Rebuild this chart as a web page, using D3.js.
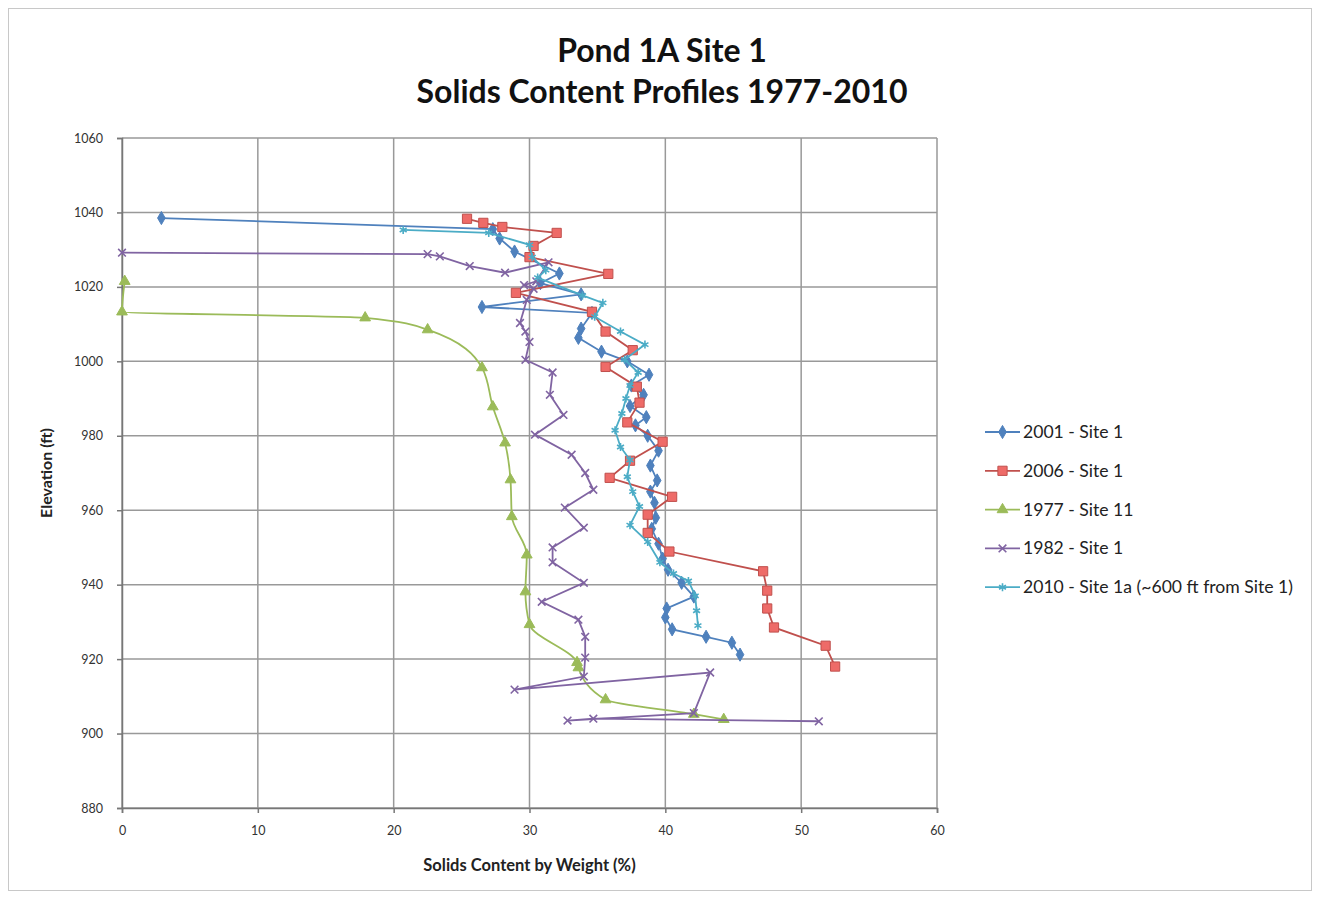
<!DOCTYPE html>
<html>
<head>
  <meta charset="utf-8">
  <title>Pond 1A Site 1 - Solids Content Profiles</title>
  <script src="https://d3js.org/d3.v7.min.js"></script>
  <style>
    body { margin: 0; background: #fff; }
    svg { display: block; font-family: Lato, "Open Sans", sans-serif; }
  </style>
</head>
<body>
  <svg width="1320" height="899"></svg>

  <script>
    // data: [solids %, elevation ft]
    const s2001 = [[2.9,1038.5],[27.3,1035.5],[27.8,1033],[28.9,1029.5],[32.2,1023.6],[30.8,1021],[33.8,1018],
      [26.5,1014.6],[34.6,1013],[33.8,1008.8],[33.6,1006.3],[35.3,1002.6],[37.2,1000],[38.8,996.4],[37.5,993.5],
      [38.4,991],[37.4,988],[38.6,985],[37.8,982.8],[38.7,980],[39.5,976],[38.9,972],[39.4,968],[38.9,965],
      [39.2,962],[39.3,958],[39.0,955],[39.5,951],[39.8,947],[40.2,944],[41.2,940.5],[42.1,936.8],[40.1,933.6],
      [40.0,931.2],[40.5,928],[43.0,926],[44.9,924.4],[45.5,921.2]];
    const s2006 = [[25.4,1038.3],[26.6,1037.2],[28.0,1036.1],[32.0,1034.5],[30.3,1031],[30.0,1028],[35.8,1023.5],
      [29.0,1018.4],[34.6,1013.3],[35.6,1008],[37.6,1003],[35.6,998.5],[37.9,993.2],[38.1,988.9],[37.2,983.6],
      [39.8,978.4],[37.4,973.3],[35.9,968.7],[40.5,963.6],[38.7,958.8],[38.7,953.9],[40.3,948.9],[47.2,943.6],
      [47.5,938.4],[47.5,933.6],[48.0,928.5],[51.8,923.6],[52.5,918]];
    const s1977 = [[0.2,1021.5],[0,1013.3],[17.9,1011.7],[22.5,1008.5],[26.5,998.3],[27.3,987.8],[28.2,978.1],
      [28.6,968.2],[28.7,958.3],[29.8,948],[29.7,938.1],[30.0,929.3],[33.5,919.1],[33.6,917.7],[35.6,909.1],
      [42.1,905.2],[44.3,903.8]];
    const s1982 = [[0,1029.2],[22.5,1028.8],[23.4,1028.2],[25.6,1025.6],[28.2,1023.8],[31.4,1026.6],[30.5,1021.5],
      [29.6,1020.5],[30.3,1019.5],[29.8,1016.5],[29.3,1010.3],[29.7,1008],[30.0,1005.2],[29.7,1000.4],[31.7,997],
      [31.5,991],[32.5,985.6],[30.4,980.3],[33.1,974.9],[34.1,970],[34.7,965.5],[32.6,960.7],[34.0,955.3],
      [31.7,950],[31.7,946],[34.0,940.5],[30.9,935.4],[33.6,930.6],[34.1,926],[34.1,920.4],[34.0,915.3],
      [28.9,911.8],[43.3,916.4],[42.1,905.5],[32.8,903.5],[34.7,904],[51.3,903.3]];
    const s2010 = [[20.7,1035.3],[27.0,1034.5],[30.0,1031.3],[30.2,1028],[31.2,1024.5],[30.6,1022.5],[33.9,1017.7],
      [35.4,1015.7],[34.8,1012],[36.7,1008],[38.5,1004.5],[37.0,1000.5],[38.0,997],[37.4,993.5],[37.1,990],
      [36.8,986],[36.3,981.5],[36.7,977],[37.4,973.5],[37.2,969],[37.6,965],[38.1,961],[37.4,956],[38.7,951.5],
      [39.6,946],[40.6,943],[41.7,941],[42.2,937],[42.3,933],[42.4,929]];

    const seriesNames = ["2001 - Site 1", "2006 - Site 1", "1977 - Site 11", "1982 - Site 1",
      "2010 - Site 1a (~600 ft from Site 1)"];
    const seriesValues = [s2001, s2006, s1977, s1982, s2010];
    const xTicks = [0, 10, 20, 30, 40, 50, 60];
    const yTicks = [880, 900, 920, 940, 960, 980, 1000, 1020, 1040, 1060];

    const styles = [
      { color: "#4F81BD", fill: "#4F81BD", symbol: d3.symbolDiamond, size: 50, curve: d3.curveLinear },
      { color: "#C0504D", fill: "#EE6B68", symbol: d3.symbolSquare, size: 85, curve: d3.curveLinear },
      { color: "#9BBB59", fill: "#9BBB59", symbol: d3.symbolTriangle, size: 50, curve: d3.curveMonotoneY },
      { color: "#8064A2", fill: "none", symbol: d3.symbolX, size: 40, curve: d3.curveLinear },
      { color: "#4BACC6", fill: "none", symbol: d3.symbolAsterisk, size: 45, curve: d3.curveLinear }
    ];

    const svg = d3.select("svg");

    // outer frame
    svg.append("rect")
      .attr("x", 8.5).attr("y", 8.5).attr("width", 1303).attr("height", 882)
      .attr("fill", "#fff").attr("stroke", "#c8c8c8");

    const x = d3.scaleLinear().domain([0, 60]).range([122, 937]);
    const y = d3.scaleLinear().domain([880, 1060]).range([808, 138]);

    // gridlines
    const grid = svg.append("g").attr("stroke", "#999").attr("stroke-width", 1.5);
    grid.selectAll(".gy").data(yTicks).join("line")
      .attr("x1", x(0)).attr("x2", x(60))
      .attr("y1", d => y(d)).attr("y2", d => y(d));
    grid.selectAll(".gx").data(xTicks).join("line")
      .attr("y1", y(880)).attr("y2", y(1060))
      .attr("x1", d => x(d)).attr("x2", d => x(d));

    // axes
    const xAxis = svg.append("g")
      .attr("transform", `translate(0,${y(880)})`)
      .call(d3.axisBottom(x).tickValues(xTicks).tickSize(5).tickPadding(13).tickFormat(d3.format("d")));
    const yAxis = svg.append("g")
      .attr("transform", `translate(${x(0)},0)`)
      .call(d3.axisLeft(y).tickValues(yTicks).tickSize(5).tickPadding(14).tickFormat(d3.format("d")));
    [xAxis, yAxis].forEach(a => {
      a.select(".domain").attr("stroke", "#777").attr("stroke-width", 1.5);
      a.selectAll(".tick line").attr("stroke", "#777").attr("stroke-width", 1.5);
      a.selectAll("text").attr("font-size", 12.5).attr("fill", "#333")
        .attr("font-family", "Lato, sans-serif");
    });

    // series
    const plot = svg.append("g");
    seriesValues.forEach((vals, i) => {
      const st = styles[i];
      const line = d3.line().x(d => x(d[0])).y(d => y(d[1])).curve(st.curve);
      plot.append("path")
        .attr("d", line(vals))
        .attr("fill", "none")
        .attr("stroke", st.color)
        .attr("stroke-width", 1.8);
      plot.append("g").selectAll("path").data(vals).join("path")
        .attr("transform", d => `translate(${x(d[0])},${y(d[1])})`)
        .attr("d", d3.symbol(st.symbol, st.size))
        .attr("fill", st.fill)
        .attr("stroke", st.color)
        .attr("stroke-width", st.fill === "none" ? 1.6 : 1);
    });

    // titles
    const title = svg.append("text")
      .attr("text-anchor", "middle")
      .attr("font-weight", "bold").attr("font-size", 32).attr("fill", "#111");
    title.append("tspan").attr("x", 662).attr("y", 62).text("Pond 1A Site 1");
    title.append("tspan").attr("x", 662).attr("y", 103).text("Solids Content Profiles 1977-2010");

    svg.append("text")
      .attr("x", (x(0) + x(60)) / 2).attr("y", 871)
      .attr("text-anchor", "middle").attr("font-weight", "bold").attr("font-size", 16.5)
      .attr("fill", "#222")
      .text("Solids Content by Weight (%)");
    svg.append("text")
      .attr("transform", `translate(52,${(y(880) + y(1060)) / 2}) rotate(-90)`)
      .attr("text-anchor", "middle").attr("font-weight", "bold").attr("font-size", 16)
      .attr("fill", "#222")
      .text("Elevation (ft)");

    // legend
    const legend = svg.append("g");
    seriesNames.forEach((name, i) => {
      const st = styles[i];
      const ly = 432 + i * 38.8;
      const item = legend.append("g");
      item.append("line")
        .attr("x1", 985).attr("x2", 1020).attr("y1", ly).attr("y2", ly)
        .attr("stroke", st.color).attr("stroke-width", 1.8);
      item.append("path")
        .attr("transform", `translate(1002.5,${ly})`)
        .attr("d", d3.symbol(st.symbol, st.size))
        .attr("fill", st.fill).attr("stroke", st.color)
        .attr("stroke-width", st.fill === "none" ? 1.6 : 1);
      item.append("text")
        .attr("x", 1023).attr("y", ly + 6)
        .attr("font-size", 17.6).attr("fill", "#222")
        .text(name);
    });
  </script>
</body>
</html>
